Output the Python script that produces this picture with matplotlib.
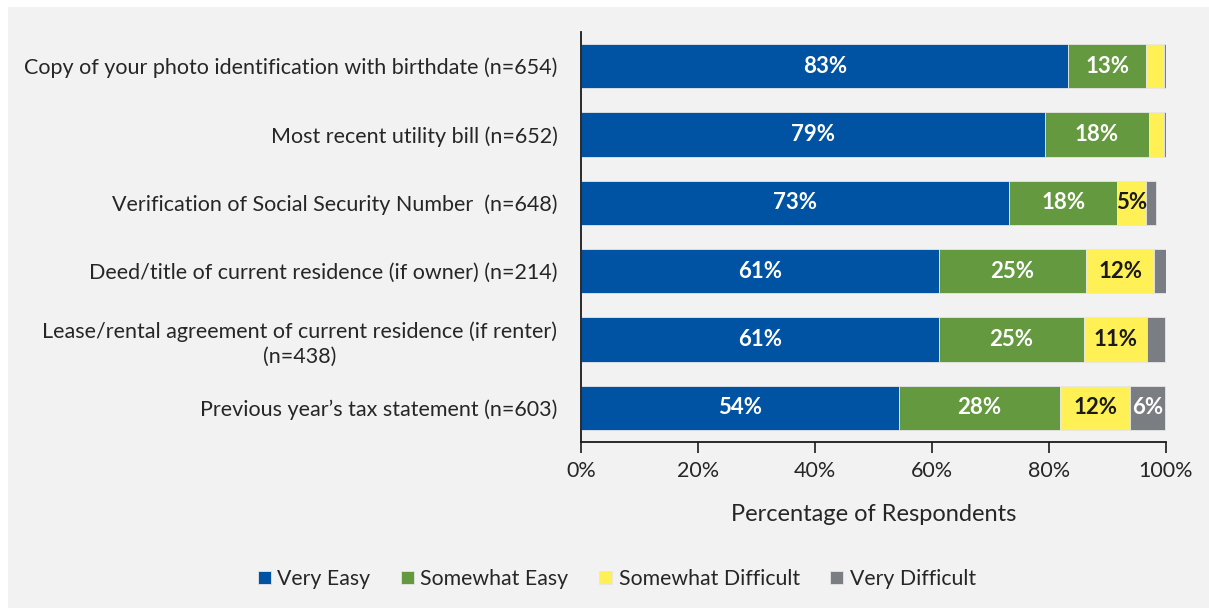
import matplotlib
matplotlib.use("Agg")
import matplotlib.pyplot as plt
from matplotlib.patches import Rectangle
import numpy as np

plt.rcParams['font.family'] = ['Lato', 'DejaVu Sans']

categories = [
    "Copy of your photo identification with birthdate (n=654)",
    "Most recent utility bill (n=652)",
    "Verification of Social Security Number  (n=648)",
    "Deed/title of current residence (if owner) (n=214)",
    "Lease/rental agreement of current residence (if renter)\n(n=438)",
    "Previous year\u2019s tax statement (n=603)",
]
series_names = ["Very Easy", "Somewhat Easy", "Somewhat Difficult", "Very Difficult"]
very_easy = [83.4, 79.4, 73.3, 61.2, 61.2, 54.4]
somewhat_easy = [13.3, 17.7, 18.4, 25.2, 24.8, 27.6]
somewhat_difficult = [3.0, 2.7, 5.0, 11.7, 10.8, 12.0]
very_difficult = [0.3, 0.3, 1.6, 1.9, 3.1, 5.9]
xticks = [0, 20, 40, 60, 80, 100]

colors = ["#0052A3", "#64993F", "#FFF155", "#7A7D81"]
text_colors = ["white", "white", "#1A1A1A", "white"]
bg = "#F2F2F2"
txt = "#262626"

fig = plt.figure(figsize=(12.09, 6.08), dpi=100, facecolor="white")
fig.patches.append(Rectangle((8 / 1209, 0), 1 - 8 / 1209, 1 - 7 / 608,
                             transform=fig.transFigure, facecolor=bg,
                             edgecolor="none", zorder=-10))
ax = fig.add_axes([581 / 1209, 1 - 442 / 608, (1165.5 - 581) / 1209, 410 / 608])
ax.set_facecolor(bg)

y = np.arange(len(categories))
left = np.zeros(len(categories))
all_series = [very_easy, somewhat_easy, somewhat_difficult, very_difficult]
for vals, name, c, tc in zip(all_series, series_names, colors, text_colors):
    vals = np.array(vals)
    bars = ax.barh(y, vals, left=left, height=0.645, color=c, label=name,
                   edgecolor="#E6E6E6", linewidth=0.6)
    for b, v, l in zip(bars, vals, left):
        if v >= 4.5:
            ax.text(l + v / 2, b.get_y() + b.get_height() / 2, f"{round(v)}%",
                    ha="center", va="center", color=tc, fontsize=16,
                    fontweight="bold")
    left = left + vals

ax.set_ylim(len(categories) - 0.5, -0.5)
ax.set_xlim(0, 100)
ax.set_yticks(y)
ax.set_yticklabels(categories, fontsize=15.5, color=txt, ha="right",
                   multialignment="center", linespacing=1.3)
ax.tick_params(axis="y", length=0, pad=17)
ax.set_xticks(xticks)
ax.set_xticklabels([f"{t}%" for t in xticks], fontsize=15.5, color=txt)
ax.tick_params(axis="x", direction="out", length=8, width=1.2, pad=6,
               color="#1A1A1A")
for s in ["top", "right"]:
    ax.spines[s].set_visible(False)
for s in ["left", "bottom"]:
    ax.spines[s].set_linewidth(1.3)
    ax.spines[s].set_color("#1A1A1A")
ax.set_xlabel("Percentage of Respondents", fontsize=17, color=txt,
              labelpad=16)

leg = fig.legend(loc="center", bbox_to_anchor=(617 / 1209, 1 - 579 / 608),
                 ncol=4, frameon=False, fontsize=15.3, handlelength=0.6,
                 handleheight=0.6, handletextpad=0.3, columnspacing=1.45)
for t in leg.get_texts():
    t.set_color(txt)

fig.savefig("out.png", dpi=100, facecolor=fig.get_facecolor())
